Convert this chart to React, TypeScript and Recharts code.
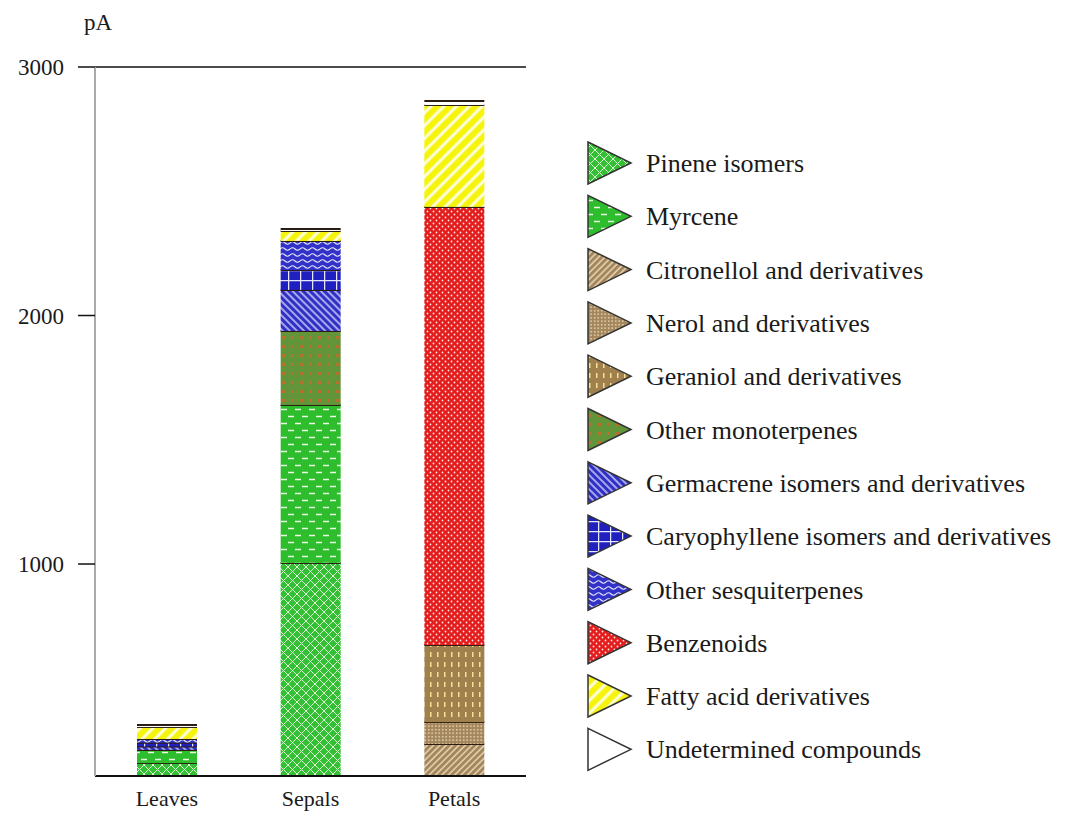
import { BarChart, Bar, XAxis, YAxis, ReferenceLine, Legend } from "recharts";

const categories = ["Leaves", "Sepals", "Petals"];

// values read per category: [Leaves, Sepals, Petals]
const pinene = [199, 1004, 0];
const myrcene = [53, 636, 0];
const citronellol = [0, 0, 276];
const nerol = [0, 0, 88];
const geraniol = [0, 0, 310];
const otherMono = [0, 298, 0];
const germacrene = [14, 165, 0];
const caryophyllene = [15, 80, 0];
const otherSesq = [15, 117, 0];
const benzenoids = [0, 0, 1763];
const fattyAcids = [48, 40, 410];
const undetermined = [8, 8, 16];

const seriesNames = [
  "Pinene isomers",
  "Myrcene",
  "Citronellol and derivatives",
  "Nerol and derivatives",
  "Geraniol and derivatives",
  "Other monoterpenes",
  "Germacrene isomers and derivatives",
  "Caryophyllene isomers and derivatives",
  "Other sesquiterpenes",
  "Benzenoids",
  "Fatty acid derivatives",
  "Undetermined compounds",
];
const seriesValues = [
  pinene,
  myrcene,
  citronellol,
  nerol,
  geraniol,
  otherMono,
  germacrene,
  caryophyllene,
  otherSesq,
  benzenoids,
  fattyAcids,
  undetermined,
];
const patternIds = [
  "p-pinene",
  "p-myrcene",
  "p-citro",
  "p-nerol",
  "p-geraniol",
  "p-othermono",
  "p-germ",
  "p-caryo",
  "p-othersesq",
  "p-benz",
  "p-fatty",
  "p-undet",
];
const yTicks = [1000, 2000, 3000];

const data = categories.map((name, ci) => {
  const row: Record<string, string | number> = { name };
  seriesValues.forEach((vals, si) => {
    row["s" + si] = vals[ci];
  });
  return row;
});

const FONT = "'Liberation Serif', 'Times New Roman', serif";

function Patterns() {
  return (
    <defs>
      <pattern id="p-pinene" width="9" height="9" patternUnits="userSpaceOnUse">
        <rect width="9" height="9" fill="#34c034" />
        <path d="M0,0 L9,9 M9,0 L0,9" stroke="#dcf6d4" strokeWidth="1" />
      </pattern>
      <pattern id="p-myrcene" width="14" height="14" patternUnits="userSpaceOnUse">
        <rect width="14" height="14" fill="#2dbd2d" />
        <path d="M1,3.5 L7,3.5 M8,10.5 L14,10.5" stroke="#e8fae0" strokeWidth="1.3" />
      </pattern>
      <pattern id="p-citro" width="4.5" height="4.5" patternUnits="userSpaceOnUse" patternTransform="rotate(45)">
        <rect width="4.5" height="4.5" fill="#a4865a" />
        <line x1="1" y1="0" x2="1" y2="4.5" stroke="#efe2c8" strokeWidth="1.3" />
      </pattern>
      <pattern id="p-nerol" width="3.5" height="3.5" patternUnits="userSpaceOnUse">
        <rect width="3.5" height="3.5" fill="#a4865a" />
        <rect x="1" y="1" width="1.4" height="1.4" fill="#f1e6cf" />
      </pattern>
      <pattern id="p-geraniol" width="7" height="10" patternUnits="userSpaceOnUse">
        <rect width="7" height="10" fill="#a0804c" />
        <rect x="3" y="2" width="1.5" height="5" fill="#f3e296" />
      </pattern>
      <pattern id="p-othermono" width="9" height="9" patternUnits="userSpaceOnUse">
        <rect width="9" height="9" fill="#62943a" />
        <rect x="3" y="3" width="3" height="3" fill="#b8702c" />
      </pattern>
      <pattern id="p-germ" width="5" height="5" patternUnits="userSpaceOnUse" patternTransform="rotate(-45)">
        <rect width="5" height="5" fill="#3030c6" />
        <line x1="1" y1="0" x2="1" y2="5" stroke="#e6e6ff" strokeWidth="1.3" />
      </pattern>
      <pattern id="p-caryo" width="12" height="10" patternUnits="userSpaceOnUse">
        <rect width="12" height="10" fill="#2020c0" />
        <path d="M0,0.6 L12,0.6 M0.6,0 L0.6,10" stroke="#e6e6ff" strokeWidth="1.3" />
      </pattern>
      <pattern id="p-othersesq" width="10" height="6" patternUnits="userSpaceOnUse">
        <rect width="10" height="6" fill="#3232c8" />
        <path d="M0,3 Q2.5,0.5 5,3 T10,3" fill="none" stroke="#e6e6ff" strokeWidth="1.1" />
      </pattern>
      <pattern id="p-benz" width="6" height="6" patternUnits="userSpaceOnUse">
        <rect width="6" height="6" fill="#e41c1c" />
        <circle cx="1.5" cy="1.5" r="0.9" fill="#ffe6e6" />
        <circle cx="4.5" cy="4.5" r="0.9" fill="#ffe6e6" />
      </pattern>
      <pattern id="p-fatty" width="9" height="9" patternUnits="userSpaceOnUse" patternTransform="rotate(45)">
        <rect width="9" height="9" fill="#f6f40a" />
        <line x1="2" y1="0" x2="2" y2="9" stroke="#fdfde0" strokeWidth="3" />
      </pattern>
      <pattern id="p-undet" width="4" height="4" patternUnits="userSpaceOnUse">
        <rect width="4" height="4" fill="#ffffff" />
      </pattern>
    </defs>
  );
}

function SegmentShape(props: any) {
  const { x, y, width, height, fill } = props;
  if (!height || height <= 0) return null;
  return (
    <g>
      <rect x={x} y={y} width={width} height={height} fill={fill} />
      <line x1={x} y1={y} x2={x + width} y2={y} stroke="#2a1c10" strokeWidth={2} />
    </g>
  );
}

function renderLegend() {
  return (
    <svg width={480} height={640}>
      {seriesNames.map((name, i) => {
        const cy = 22 + i * 53.3;
        return (
          <g key={name}>
            <polygon
              points={`2,${cy - 21} 45,${cy} 2,${cy + 21}`}
              fill={`url(#${patternIds[i]})`}
              stroke="#333"
              strokeWidth={1.5}
            />
            <text x={60} y={cy} dy="0.35em" fontSize={26} fontFamily={FONT} fill="#1a1a1a">
              {name}
            </text>
          </g>
        );
      })}
    </svg>
  );
}

export default function App() {
  return (
    <div style={{ position: "absolute", left: 0, top: 0, width: 1069, height: 821, background: "#fff" }}>
      <BarChart
        width={1069}
        height={821}
        data={data}
        margin={{ top: 67, right: 543, left: 35, bottom: 15 }}
        barCategoryGap={0}
      >
        <Patterns />
        <XAxis
          dataKey="name"
          tickLine={false}
          axisLine={{ stroke: "#111", strokeWidth: 2 }}
          height={30}
          tickMargin={8}
          tick={{ fontSize: 22, fontFamily: FONT, fill: "#1a1a1a" }}
        />
        <YAxis
          type="number"
          domain={[147, 3000]}
          allowDataOverflow
          ticks={yTicks}
          width={60}
          tickSize={17}
          tickMargin={14}
          axisLine={{ stroke: "#aaa", strokeWidth: 2 }}
          tickLine={{ stroke: "#111", strokeWidth: 1.5 }}
          tick={{ fontSize: 23, fontFamily: FONT, fill: "#1a1a1a" }}
        />
        <ReferenceLine y={3000} stroke="#111" strokeWidth={1.5} />
        {seriesNames.map((name, i) => (
          <Bar
            key={name}
            dataKey={"s" + i}
            name={name}
            stackId="a"
            barSize={60}
            fill={`url(#${patternIds[i]})`}
            shape={SegmentShape}
            isAnimationActive={false}
          />
        ))}
        <Legend
          layout="horizontal"
          verticalAlign="middle"
          align="center"
          content={renderLegend}
          wrapperStyle={{ left: 586, top: 141, width: 480, height: 640 }}
        />
        <text x={98} y={22} dy="0.35em" textAnchor="middle" fontSize={23} fontFamily={FONT} fill="#1a1a1a">
          pA
        </text>
      </BarChart>
    </div>
  );
}
